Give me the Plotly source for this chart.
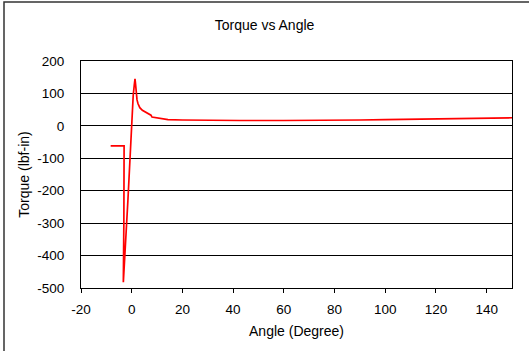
import plotly.graph_objects as go

# Data
angle = [-8.3, -3.0, -3.1, -3.3, -1.5, -0.1, 0.1, 0.6, 1.0, 1.3, 1.5, 1.8, 2.1, 2.5, 3.2, 4.2, 5.5, 7.1, 7.6, 8.0,
         10.0, 12.0, 14.3, 20.0, 29.4, 42.6, 60.0, 75.0, 90.0, 100.0, 120.0, 135.0, 150.0]
torque = [-62, -62, -300, -482, -230, 0, 45, 95, 125, 145, 130, 102, 80, 68, 56, 48, 42, 37, 33, 27,
          25, 22, 19, 18, 16.5, 16.5, 16.5, 16.5, 18, 19, 21, 23, 25]

x_ticks = [-20, 0, 20, 40, 60, 80, 100, 120, 140]
y_ticks = [-500, -400, -300, -200, -100, 0, 100, 200]

W, H = 529, 351
ML, MR, MT, MB = 81, 17, 61, 63
pw, ph = W - ML - MR, H - MT - MB

fig = go.Figure()
fig.add_trace(go.Scatter(x=angle, y=torque, mode="lines",
                         line=dict(color="#FF0000", width=1.7), showlegend=False))

font = "Liberation Sans, Arial, sans-serif"
fig.update_layout(
    width=W, height=H,
    margin=dict(l=ML, r=MR, t=MT, b=MB),
    paper_bgcolor="white", plot_bgcolor="white",
    font=dict(family=font, size=13.5, color="black"),
    title=dict(text="Torque vs Angle", x=(W / 2) / W, xref="container", xanchor="center",
               y=1 - 25 / H, yref="container", yanchor="middle",
               font=dict(size=14, family=font, color="black")),
    xaxis=dict(range=[-20, 150], tickvals=x_ticks, ticktext=[str(v) for v in x_ticks],
               showgrid=False, zeroline=False, showline=True, linecolor="black", linewidth=1,
               mirror=True, ticks="outside", ticklen=4, tickcolor="black",
               ticklabelstandoff=5,
               tickfont=dict(size=13.5, family=font),
               title=dict(text="Angle (Degree)", font=dict(size=14, family=font), standoff=9)),
    yaxis=dict(range=[-500, 200], tickvals=y_ticks, ticktext=[str(v) for v in y_ticks],
               showgrid=True, gridcolor="black", gridwidth=1, zeroline=False,
               showline=True, linecolor="black", linewidth=1, mirror=True, ticks="",
               ticklabelstandoff=13,
               tickfont=dict(size=13.5, family=font),
               title=dict(text="Torque (lbf-in)", font=dict(size=14, family=font), standoff=4)),
    shapes=[dict(type="rect", xref="paper", yref="paper",
                 x0=(4 - ML) / pw, x1=1 + (MR + 20) / pw,
                 y0=-(MB + 20) / ph, y1=1 + (MT - 2) / ph,
                 line=dict(color="#333333", width=1.5), layer="below")],
)

fig.write_html("out.html")
